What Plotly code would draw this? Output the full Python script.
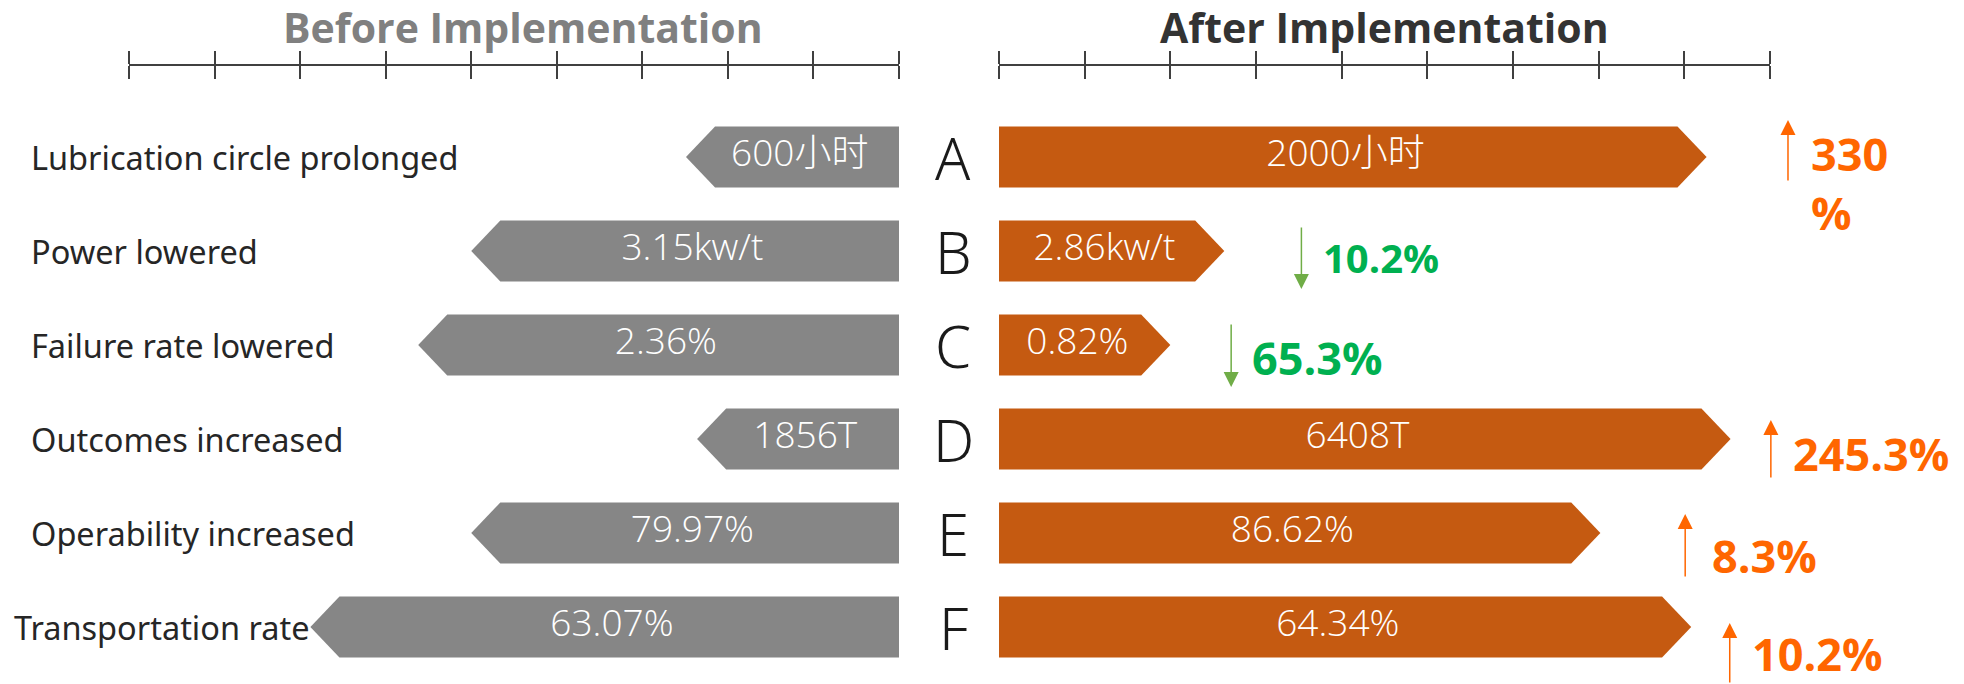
import plotly.graph_objects as go

# ---------------- data ----------------
metrics = ["Lubrication circle prolonged", "Power lowered", "Failure rate lowered",
           "Outcomes increased", "Operability increased", "Transportation rate"]
letters = ["A", "B", "C", "D", "E", "F"]
before_labels = ["600小时", "3.15kw/t", "2.36%", "1856T", "79.97%", "63.07%"]
after_labels = ["2000小时", "2.86kw/t", "0.82%", "6408T", "86.62%", "64.34%"]
# arrow-bar lengths, in axis tick units (axis spans 0..9)
before_len = [2.49, 5.0, 5.62, 2.36, 5.0, 6.88]
after_len = [8.26, 2.63, 2.0, 8.54, 7.02, 8.08]
change_text = ["330<br>%", "10.2%", "65.3%", "245.3%", "8.3%", "10.2%"]
change_dir = ["up", "down", "down", "up", "up", "up"]

# ---------------- layout constants ----------------
W, H = 1964, 684
GRAY, ORANGE = "#868686", "#C55A11"
UP_COL, UP_TXT = "#FF6600", "#FF6600"
DN_COL, DN_TXT = "#70AD47", "#00B050"
HEAD = 0.34      # arrow head length (axis units)
HALF = 0.325     # half bar thickness (row units)
ROW0_PX, ROW_PX = 157, 94
AXIS_PX = 65
AX_MAX = 9

y_top = (0 - ROW0_PX) / ROW_PX
y_bot = (H - ROW0_PX) / ROW_PX

left_dom = [129 / W, 899 / W]
right_dom = [999 / W, 1770 / W]


def right_paper(u):
    """convert a right-axis value into paper x (for marks beyond the axis end)"""
    return right_dom[0] + u / AX_MAX * (right_dom[1] - right_dom[0])


# change-marker placement (x in right-axis units, y offsets in rows)
arrow_x = [9.21, 3.53, 2.71, 9.01, 8.01, 8.53]
arrow_top = [-0.394, -0.266, -0.234, -0.202, -0.202, -0.043]
arrow_bot = [0.266, 0.404, 0.447, 0.426, 0.479, 0.62]
text_x = [9.45, 3.76, 2.93, 9.25, 8.30, 8.77]
text_dy = [0.28, 0.074, 0.128, 0.149, 0.234, 0.28]
text_size = [45, 40, 45, 45, 45, 45]

fig = go.Figure()


def arrow_bar(L, i, xa, color):
    xs = [0, L - HEAD, L, L - HEAD, 0, 0]
    ys = [i - HALF, i - HALF, i, i + HALF, i + HALF, i - HALF]
    fig.add_trace(go.Scatter(x=xs, y=ys, xaxis=xa, yaxis="y", mode="lines",
                             fill="toself", fillcolor=color, line=dict(width=0, color=color),
                             hoverinfo="skip", showlegend=False))


for i in range(len(metrics)):
    arrow_bar(before_len[i], i, "x", GRAY)
    arrow_bar(after_len[i], i, "x2", ORANGE)

value_font = dict(family="Open Sans, Noto Sans CJK SC", size=37, color="white", weight=300)
fig.add_trace(go.Scatter(x=[(L - HEAD / 2) / 2 for L in before_len], y=list(range(len(metrics))),
                         xaxis="x", yaxis="y", mode="text", text=before_labels,
                         textposition="middle center", textfont=value_font,
                         hoverinfo="skip", showlegend=False))
fig.add_trace(go.Scatter(x=[(L - HEAD / 2) / 2 for L in after_len], y=list(range(len(metrics))),
                         xaxis="x2", yaxis="y", mode="text", text=after_labels,
                         textposition="middle center", textfont=value_font,
                         hoverinfo="skip", showlegend=False))

ann = []
# titles
ann.append(dict(text="<b>Before Implementation</b>", x=523 / W, y=1 - 27 / H, xref="paper", yref="paper",
                xanchor="center", yanchor="middle", showarrow=False,
                font=dict(family="Open Sans", size=41, color="#808080")))
ann.append(dict(text="<b>After Implementation</b>", x=1384 / W, y=1 - 27 / H, xref="paper", yref="paper",
                xanchor="center", yanchor="middle", showarrow=False,
                font=dict(family="Open Sans", size=41, color="#333333")))

label_x = [29, 29, 29, 29, 29, 12]
for i, m in enumerate(metrics):
    ann.append(dict(text=m, x=label_x[i] / W, y=i, xref="paper", yref="y", xanchor="left",
                    yanchor="middle", showarrow=False,
                    font=dict(family="Noto Sans", size=32.5, color="#262626")))
    ann.append(dict(text=letters[i], x=953 / W, y=i, xref="paper", yref="y", xanchor="center",
                    yanchor="middle", showarrow=False,
                    font=dict(family="Noto Sans", size=58, color="#1a1a1a", weight=300)))
    up = change_dir[i] == "up"
    col = UP_COL if up else DN_COL
    head_y = i + (arrow_top[i] if up else arrow_bot[i])
    tail_y = i + (arrow_bot[i] if up else arrow_top[i])
    ann.append(dict(text="", x=right_paper(arrow_x[i]), y=head_y, xref="paper", yref="y",
                    ax=0, ay=(tail_y - head_y) * ROW_PX, axref="pixel", ayref="pixel",
                    showarrow=True, arrowhead=2, arrowsize=2, arrowwidth=1.5,
                    arrowcolor=col, standoff=0))
    ann.append(dict(text="<b>%s</b>" % change_text[i], x=right_paper(text_x[i]), y=i + text_dy[i],
                    xref="paper", yref="y", xanchor="left", yanchor="middle", align="left",
                    showarrow=False,
                    font=dict(family="Open Sans", size=text_size[i],
                              color=UP_TXT if up else DN_TXT)))

axis_pos = 1 - AXIS_PX / H
common = dict(tickmode="linear", tick0=0, dtick=1, showticklabels=False, showgrid=False,
              zeroline=False, anchor="free", position=axis_pos, tickcolor="#404040",
              tickwidth=2, ticklen=13, fixedrange=True)

fig.update_layout(
    width=W, height=H, margin=dict(l=0, r=0, t=0, b=0),
    paper_bgcolor="white", plot_bgcolor="rgba(0,0,0,0)",
    xaxis=dict(domain=left_dom, range=[AX_MAX, 0], side="top", ticks="outside",
               showline=True, linecolor="#404040", linewidth=2, **common),
    xaxis3=dict(overlaying="x", range=[AX_MAX, 0], side="bottom", ticks="outside",
                showline=False, **common),
    xaxis2=dict(domain=right_dom, range=[0, AX_MAX], side="top", ticks="outside",
                showline=True, linecolor="#404040", linewidth=2, **common),
    xaxis4=dict(overlaying="x2", range=[0, AX_MAX], side="bottom", ticks="outside",
                showline=False, **common),
    yaxis=dict(range=[y_bot, y_top], visible=False, fixedrange=True),
    annotations=ann,
)
# invisible traces to activate the overlay axes
fig.add_trace(go.Scatter(x=[0], y=[0], xaxis="x3", yaxis="y", mode="markers",
                         marker=dict(opacity=0), hoverinfo="skip", showlegend=False))
fig.add_trace(go.Scatter(x=[0], y=[0], xaxis="x4", yaxis="y", mode="markers",
                         marker=dict(opacity=0), hoverinfo="skip", showlegend=False))

fig.write_html("out.html", post_script="document.body.style.margin='0';",
               config={"displayModeBar": False})
